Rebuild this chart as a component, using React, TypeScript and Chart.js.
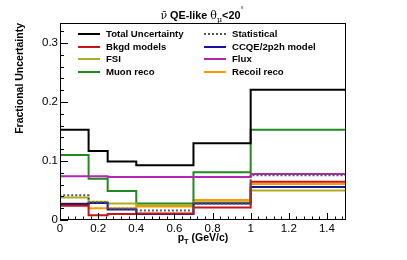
import { useEffect, useRef } from 'react';
import { Chart, registerables } from 'chart.js';

Chart.register(...registerables);

// ---- data ----
const binEdges = [0, 0.15, 0.25, 0.4, 0.7, 1.0, 1.5];
const totalUnc = [0.153, 0.117, 0.099, 0.093, 0.130, 0.221];
const statUnc = [0.042, 0.030, 0.019, 0.016, 0.028, 0.076];
const bkgdUnc = [0.024, 0.008, 0.010, 0.011, 0.021, 0.065];
const ccqeUnc = [0.027, 0.029, 0.018, 0.010, 0.028, 0.056];
const fsiUnc = [0.038, 0.031, 0.028, 0.025, 0.030, 0.050];
const fluxUnc = [0.074, 0.074, 0.073, 0.073, 0.073, 0.078];
const muonUnc = [0.110, 0.070, 0.049, 0.028, 0.081, 0.153];
const recoilUnc = [0.028, 0.020, 0.020, 0.023, 0.034, 0.061];

const seriesLabels = [
  'Total Uncertainty', 'Statistical',
  'Bkgd models', 'CCQE/2p2h model',
  'FSI', 'Flux',
  'Muon reco', 'Recoil reco',
];
const seriesValues = [totalUnc, statUnc, bkgdUnc, ccqeUnc, fsiUnc, fluxUnc, muonUnc, recoilUnc];
const seriesColors = ['#000000', '#555555', '#c81414', '#14149e', '#adad1f', '#b526b5', '#228822', '#ff9900'];
const seriesDashed = [false, true, false, false, false, false, false, false];

const xTickValues = [0, 0.2, 0.4, 0.6, 0.8, 1.0, 1.2, 1.4];
const yTickValues = [0, 0.1, 0.2, 0.3];
const xMin = 0;
const xMax = 1.5;
const yMin = 0;
const yMax = 0.334;

const SANS = "'Liberation Sans', Arial, sans-serif";
const SERIF = "'DejaVu Serif', 'Liberation Serif', serif";

function histPoints(vals: number[]) {
  const pts: { x: number; y: number }[] = [{ x: binEdges[0], y: 0 }];
  vals.forEach((v, i) => pts.push({ x: binEdges[i], y: v }));
  const last = binEdges[binEdges.length - 1];
  pts.push({ x: last, y: vals[vals.length - 1] });
  pts.push({ x: last, y: 0 });
  return pts;
}

const fmt = (v: number) => String(Math.round(v * 10) / 10);

const decorPlugin = {
  id: 'rootDecor',
  afterDatasetsDraw(chart: any) {
    const ctx = chart.ctx as CanvasRenderingContext2D;
    const ca = chart.chartArea;
    const xs = chart.scales.x;
    const ys = chart.scales.y;
    ctx.save();
    // frame
    ctx.strokeStyle = '#000';
    ctx.lineWidth = 1;
    ctx.strokeRect(ca.left + 0.5, ca.top + 0.5, ca.right - ca.left - 1, ca.bottom - ca.top - 1);
    // x ticks (inside)
    ctx.beginPath();
    for (let i = 0; i * 0.04 <= xMax + 1e-9; i++) {
      const v = i * 0.04;
      const px = Math.round(xs.getPixelForValue(v)) + 0.5;
      const len = i % 5 === 0 ? 7 : 3.5;
      ctx.moveTo(px, ca.bottom);
      ctx.lineTo(px, ca.bottom - len);
    }
    // y ticks
    for (let i = 0; i * 0.02 <= yMax + 1e-9; i++) {
      const v = i * 0.02;
      const py = Math.round(ys.getPixelForValue(v)) + 0.5;
      const len = i % 5 === 0 ? 8 : 4;
      ctx.moveTo(ca.left, py);
      ctx.lineTo(ca.left + len, py);
    }
    ctx.stroke();

    // legend
    const colX = [78, 204];
    const rowY0 = 34.3;
    const rowStep = 12.57;
    ctx.font = `bold 9.6px ${SANS}`;
    ctx.textBaseline = 'middle';
    ctx.textAlign = 'left';
    seriesLabels.forEach((lab, i) => {
      const c = i % 2;
      const r = Math.floor(i / 2);
      const x = colX[c];
      const y = Math.round(rowY0 + r * rowStep);
      ctx.strokeStyle = seriesColors[i];
      ctx.lineWidth = 2;
      ctx.setLineDash(seriesDashed[i] ? [2, 2] : []);
      ctx.beginPath();
      ctx.moveTo(x, y);
      ctx.lineTo(x + 22, y);
      ctx.stroke();
      ctx.setLineDash([]);
      ctx.fillStyle = '#000';
      ctx.fillText(lab, x + 28, y + 0.5);
    });

    // title: ν̄ QE-like θμ<20°
    const tBase = 19;
    const pieces: { t: string; font: string; dy: number }[] = [
      { t: '\u03BD\u0304', font: `11px ${SERIF}`, dy: 0 },
      { t: ' QE-like ', font: `bold 10.8px ${SANS}`, dy: 0 },
      { t: '\u03B8', font: `11px ${SERIF}`, dy: 0 },
      { t: '\u03BC', font: `8px ${SERIF}`, dy: 3 },
      { t: '<20', font: `bold 10.8px ${SANS}`, dy: 0 },
      { t: '\u00B0', font: `8px ${SANS}`, dy: -7 },
    ];
    let total = 0;
    const widths = pieces.map((p) => {
      ctx.font = p.font;
      const w = ctx.measureText(p.t).width;
      total += w;
      return w;
    });
    let tx = 202 - total / 2;
    ctx.textBaseline = 'alphabetic';
    ctx.fillStyle = '#000';
    pieces.forEach((p, i) => {
      ctx.font = p.font;
      ctx.fillText(p.t, tx, tBase + p.dy);
      tx += widths[i];
    });

    // x title: p_T (GeV/c)
    const xt = [
      { t: 'p', font: `bold 10.5px ${SANS}`, dy: 0 },
      { t: 'T', font: `bold 7.5px ${SANS}`, dy: 3 },
      { t: ' (GeV/c)', font: `bold 10.5px ${SANS}`, dy: 0 },
    ];
    let xw = 0;
    const xws = xt.map((p) => {
      ctx.font = p.font;
      const w = ctx.measureText(p.t).width;
      xw += w;
      return w;
    });
    let xx = (ca.left + ca.right) / 2 - xw / 2;
    xt.forEach((p, i) => {
      ctx.font = p.font;
      ctx.fillText(p.t, xx, 241 + p.dy);
      xx += xws[i];
    });

    // y title
    ctx.translate(23, ca.top);
    ctx.rotate(-Math.PI / 2);
    ctx.font = `bold 10.5px ${SANS}`;
    ctx.textAlign = 'right';
    ctx.textBaseline = 'alphabetic';
    ctx.fillText('Fractional Uncertainty', 0, 0);
    ctx.restore();
  },
};

export default function App() {
  const ref = useRef<HTMLCanvasElement>(null);
  useEffect(() => {
    const canvas = ref.current;
    if (!canvas) return;
    const datasets = seriesLabels.map((lab, i) => ({
      label: lab,
      data: histPoints(seriesValues[i]),
      borderColor: seriesColors[i],
      backgroundColor: seriesColors[i],
      borderWidth: 2,
      borderDash: seriesDashed[i] ? [2, 2] : [],
      stepped: true as const,
      pointRadius: 0,
      fill: false,
      tension: 0,
    }));
    const chart = new Chart(canvas, {
      type: 'line',
      data: { datasets },
      options: {
        responsive: false,
        animation: false,
        devicePixelRatio: 1,
        layout: { padding: { top: 23, right: 61, left: 0, bottom: 0 } },
        plugins: {
          legend: { display: false },
          title: { display: false },
          tooltip: { enabled: false },
        },
        scales: {
          x: {
            type: 'linear',
            min: xMin,
            max: xMax,
            grid: { display: false, drawTicks: false },
            border: { display: false },
            ticks: {
              font: { family: SANS, size: 11.5 },
              color: '#000',
              padding: 2,
              maxRotation: 0,
              autoSkip: false,
              callback: (v: any) => fmt(Number(v)),
            },
            afterBuildTicks: (s: any) => {
              s.ticks = xTickValues.map((v) => ({ value: v }));
            },
            afterFit: (s: any) => {
              s.height = 40;
            },
          },
          y: {
            type: 'linear',
            min: yMin,
            max: yMax,
            grid: { display: false, drawTicks: false },
            border: { display: false },
            ticks: {
              font: { family: SANS, size: 11.5 },
              color: '#000',
              padding: 2,
              autoSkip: false,
              callback: (v: any) => fmt(Number(v)),
            },
            afterBuildTicks: (s: any) => {
              s.ticks = yTickValues.map((v) => ({ value: v }));
            },
            afterFit: (s: any) => {
              s.width = 60;
            },
          },
        },
      },
      plugins: [decorPlugin],
    });
    return () => chart.destroy();
  }, []);
  return (
    <div style={{ position: 'fixed', left: 0, top: 0, width: 407, height: 260, background: '#fff' }}>
      <canvas ref={ref} width={407} height={260} style={{ display: 'block', width: 407, height: 260 }} />
    </div>
  );
}
